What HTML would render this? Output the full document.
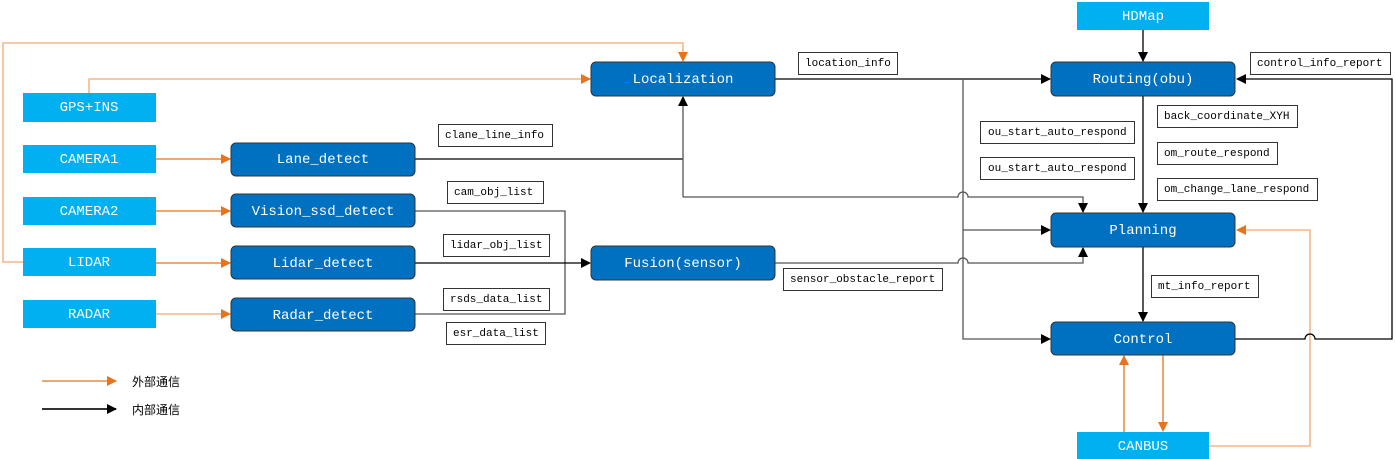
<!DOCTYPE html>
<html><head><meta charset="utf-8"><style>
html,body{margin:0;padding:0;background:#fff;}
svg{display:block;}
text{font-family:"Liberation Mono","Noto Sans CJK SC",monospace;}
.bt{fill:#fff;font-size:14px;text-anchor:middle;dominant-baseline:central;}
.lt{fill:#000;font-size:11px;dominant-baseline:central;}
.lg{fill:#000;font-size:12px;dominant-baseline:central;font-family:"Liberation Sans","Noto Sans CJK SC",sans-serif;}
</style></head><body>
<svg width="1396" height="459" viewBox="0 0 1396 459" xmlns="http://www.w3.org/2000/svg">
<defs>
<marker id="ab" markerWidth="10" markerHeight="10" refX="9" refY="5" orient="auto" markerUnits="userSpaceOnUse"><path d="M0,0 L10,5 L0,10 z" fill="#000"/></marker>
<marker id="ao" markerWidth="10" markerHeight="10" refX="9" refY="5" orient="auto" markerUnits="userSpaceOnUse"><path d="M0,0 L10,5 L0,10 z" fill="#e8731a"/></marker>
</defs>
<g fill="none" stroke-width="1.3">
<path d="M23,262 H3 V43 H683 V61" stroke="#f0a870" marker-end="url(#ao)"/>
<path d="M89,93 V79 H590" stroke="#f0a870" marker-end="url(#ao)"/>
<path d="M156,159 H230" stroke="#e8731a" marker-end="url(#ao)"/>
<path d="M156,211 H230" stroke="#e8731a" marker-end="url(#ao)"/>
<path d="M156,263 H230" stroke="#e8731a" marker-end="url(#ao)"/>
<path d="M156,314 H230" stroke="#f0a870" marker-end="url(#ao)"/>
<path d="M1124,432 V356" stroke="#e8731a" marker-end="url(#ao)"/>
<path d="M1163,355 V431" stroke="#e8731a" marker-end="url(#ao)"/>
<path d="M1209,446 H1310 V230 H1237" stroke="#f0a870" marker-end="url(#ao)"/>
<path d="M415,159 H683" stroke="#000"/>
<path d="M683,197 V97" stroke="#555" marker-end="url(#ab)"/>
<path d="M683,197 H958 a5,5 0 0 1 10,0 H1083 V212" stroke="#555" marker-end="url(#ab)"/>
<path d="M415,211 H565 V314 H415" stroke="#555"/>
<path d="M415,263 H590" stroke="#000" marker-end="url(#ab)"/>
<path d="M775,263 H958 a5,5 0 0 1 10,0 H1083 V248" stroke="#555" marker-end="url(#ab)"/>
<path d="M775,79 H1050" stroke="#000" marker-end="url(#ab)"/>
<path d="M963,79 V339 H1050" stroke="#555" marker-end="url(#ab)"/>
<path d="M963,230 H1050" stroke="#555" marker-end="url(#ab)"/>
<path d="M1143,30 V61" stroke="#000" marker-end="url(#ab)"/>
<path d="M1143,96 V212" stroke="#000" marker-end="url(#ab)"/>
<path d="M1143,247 V321" stroke="#000" marker-end="url(#ab)"/>
<path d="M1235,339 H1305 a5,5 0 0 1 10,0 H1392 V79 H1237" stroke="#000" marker-end="url(#ab)"/>
<path d="M42,381 H116" stroke="#f0a870" stroke-width="2" marker-end="url(#ao)"/>
<path d="M42,409 H116" stroke="#333" stroke-width="2" marker-end="url(#ab)"/>
</g>
<g fill="#00b0f0">
<rect x="1077" y="2" width="132" height="28"/>
<rect x="23" y="93" width="133" height="29"/>
<rect x="23" y="145" width="133" height="28"/>
<rect x="23" y="197" width="133" height="28"/>
<rect x="23" y="248" width="133" height="28"/>
<rect x="23" y="300" width="133" height="28"/>
<rect x="1077" y="432" width="132" height="27"/>
</g>
<text x="1143" y="17" class="bt">HDMap</text>
<text x="89" y="108" class="bt">GPS+INS</text>
<text x="89" y="160" class="bt">CAMERA1</text>
<text x="89" y="212" class="bt">CAMERA2</text>
<text x="89" y="263" class="bt">LIDAR</text>
<text x="89" y="315" class="bt">RADAR</text>
<text x="1143" y="447" class="bt">CANBUS</text>
<g fill="#0070c0" stroke="#333" stroke-width="1">
<rect x="231" y="143" width="184" height="33" rx="5"/>
<rect x="231" y="194" width="184" height="33" rx="5"/>
<rect x="231" y="246" width="184" height="33" rx="5"/>
<rect x="231" y="298" width="184" height="33" rx="5"/>
<rect x="591" y="62" width="184" height="34" rx="5"/>
<rect x="591" y="246" width="184" height="34" rx="5"/>
<rect x="1051" y="62" width="184" height="34" rx="5"/>
<rect x="1051" y="213" width="184" height="34" rx="5"/>
<rect x="1051" y="322" width="184" height="33" rx="5"/>
</g>
<text x="323" y="160" class="bt">Lane_detect</text>
<text x="323" y="212" class="bt">Vision_ssd_detect</text>
<text x="323" y="264" class="bt">Lidar_detect</text>
<text x="323" y="316" class="bt">Radar_detect</text>
<text x="683" y="80" class="bt">Localization</text>
<text x="683" y="264" class="bt">Fusion(sensor)</text>
<text x="1143" y="80" class="bt">Routing(obu)</text>
<text x="1143" y="231" class="bt">Planning</text>
<text x="1143" y="340" class="bt">Control</text>
<g fill="#fff" stroke="#333" stroke-width="1">
<rect x="798.5" y="52.5" width="99" height="22"/>
<rect x="438.5" y="124.5" width="114" height="22"/>
<rect x="447.5" y="181.5" width="96" height="22"/>
<rect x="443.5" y="234.5" width="106" height="22"/>
<rect x="443.5" y="288.5" width="106" height="22"/>
<rect x="446.5" y="322.5" width="99" height="22"/>
<rect x="783.5" y="268.5" width="159" height="22"/>
<rect x="980.5" y="121.5" width="154" height="22"/>
<rect x="980.5" y="157.5" width="154" height="22"/>
<rect x="1157.5" y="105.5" width="140" height="22"/>
<rect x="1157.5" y="142.5" width="120" height="22"/>
<rect x="1157.5" y="178.5" width="160" height="22"/>
<rect x="1151.5" y="275.5" width="107" height="22"/>
<rect x="1250.5" y="52.5" width="140" height="22"/>
</g>
<text x="805" y="64" class="lt">location_info</text>
<text x="445" y="136" class="lt">clane_line_info</text>
<text x="454" y="193" class="lt">cam_obj_list</text>
<text x="450" y="246" class="lt">lidar_obj_list</text>
<text x="450" y="300" class="lt">rsds_data_list</text>
<text x="453" y="334" class="lt">esr_data_list</text>
<text x="790" y="280" class="lt">sensor_obstacle_report</text>
<text x="988" y="133" class="lt">ou_start_auto_respond</text>
<text x="988" y="169" class="lt">ou_start_auto_respond</text>
<text x="1164" y="117" class="lt">back_coordinate_XYH</text>
<text x="1164" y="154" class="lt">om_route_respond</text>
<text x="1164" y="190" class="lt">om_change_lane_respond</text>
<text x="1158" y="287" class="lt">mt_info_report</text>
<text x="1257" y="64" class="lt">control_info_report</text>
<text x="132" y="382" class="lg">外部通信</text>
<text x="132" y="410" class="lg">内部通信</text>
</svg>
</body></html>
